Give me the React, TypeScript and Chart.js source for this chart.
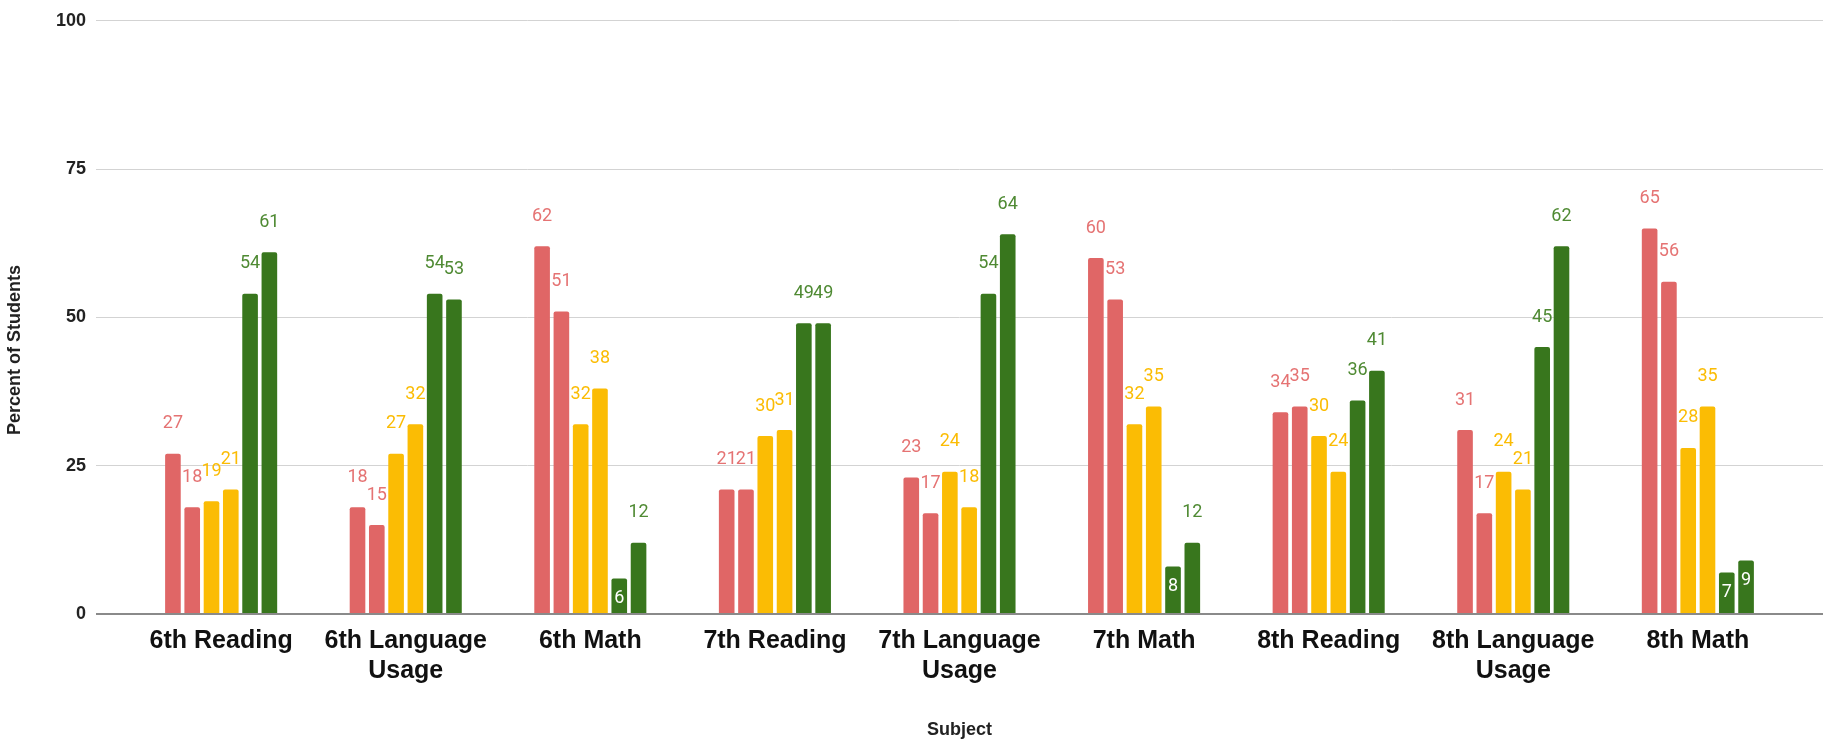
import React, { useEffect, useRef } from "react";
import { Chart, registerables } from "chart.js";

Chart.register(...registerables);

// ---- Data ----
const categories = [
  "6th Reading",
  "6th Language Usage",
  "6th Math",
  "7th Reading",
  "7th Language Usage",
  "7th Math",
  "8th Reading",
  "8th Language Usage",
  "8th Math",
];
const tickLabels: string[][] = [
  ["6th Reading"],
  ["6th Language", "Usage"],
  ["6th Math"],
  ["7th Reading"],
  ["7th Language", "Usage"],
  ["7th Math"],
  ["8th Reading"],
  ["8th Language", "Usage"],
  ["8th Math"],
];
const red1 = [27, 18, 62, 21, 23, 60, 34, 31, 65];
const red2 = [18, 15, 51, 21, 17, 53, 35, 17, 56];
const yellow1 = [19, 27, 32, 30, 24, 32, 30, 24, 28];
const yellow2 = [21, 32, 38, 31, 18, 35, 24, 21, 35];
const green1 = [54, 54, 6, 49, 54, 8, 36, 45, 7];
const green2 = [61, 53, 12, 49, 64, 12, 41, 62, 9];
const yTicks = [0, 25, 50, 75, 100];
const yTitle = "Percent of Students";
const xTitle = "Subject";

const seriesValues = [red1, red2, yellow1, yellow2, green1, green2];
const barColors = ["#e06666", "#e06666", "#fbbc04", "#fbbc04", "#38761d", "#38761d"];
const labelColors = ["#e57373", "#e57373", "#fbbc04", "#fbbc04", "#4f8a33", "#4f8a33"];

const EDGE_PAD = 0.178;
const FONT = "'Liberation Sans', Arial, sans-serif";

function drawLabels(chart: any, inside: boolean) {
  const ctx = chart.ctx;
  ctx.save();
  ctx.font = "18px Roboto";
  ctx.textAlign = "center";
  ctx.textBaseline = "middle";
  chart.data.datasets.forEach((_ds: any, i: number) => {
    const meta = chart.getDatasetMeta(i);
    meta.data.forEach((el: any, j: number) => {
      const v = seriesValues[i][j];
      const isInside = v < 10;
      if (isInside !== inside) return;
      ctx.fillStyle = inside ? "#ffffff" : labelColors[i];
      ctx.fillText(String(v), el.x, inside ? el.y + 20 : el.y - 30);
    });
  });
  ctx.restore();
}

const labelPlugin = {
  id: "barValueLabels",
  beforeDatasetsDraw(chart: any) {
    drawLabels(chart, false);
  },
  afterDatasetsDraw(chart: any) {
    drawLabels(chart, true);
  },
  afterDraw(chart: any) {
    const ctx = chart.ctx;
    ctx.save();
    ctx.translate(15, 350);
    ctx.rotate(-Math.PI / 2);
    ctx.font = "bold 18px " + FONT;
    ctx.fillStyle = "#222222";
    ctx.textAlign = "center";
    ctx.textBaseline = "middle";
    ctx.fillText(yTitle, 0, 0);
    ctx.restore();
  },
};

export default function App() {
  const canvasRef = useRef<HTMLCanvasElement | null>(null);

  useEffect(() => {
    if (!canvasRef.current) return;
    const chart = new Chart(canvasRef.current, {
      type: "bar",
      data: {
        datasets: seriesValues.map((vals, i) => ({
          label: "Series " + (i + 1),
          data: vals.map((v, j) => ({ x: j, y: v })),
          backgroundColor: barColors[i],
          borderWidth: 0,
          borderRadius: { topLeft: 2, topRight: 2, bottomLeft: 0, bottomRight: 0 },
          borderSkipped: "bottom",
          categoryPercentage: 0.627,
          barPercentage: 0.81,
        })),
      },
      options: {
        responsive: false,
        animation: false,
        devicePixelRatio: 1,
        layout: { padding: { top: 11, right: 2, bottom: 0, left: 0 } },
        plugins: {
          legend: { display: false },
          tooltip: { enabled: false },
        },
        scales: {
          x: {
            type: "linear",
            offset: false,
            bounds: "data",
            min: -0.5 - EDGE_PAD,
            max: categories.length - 0.5 + EDGE_PAD,
            afterBuildTicks: (scale: any) => {
              scale.ticks = categories.map((_c, i) => ({ value: i }));
            },
            afterFit: (scale: any) => {
              scale.height = 127;
            },
            grid: { display: false, drawTicks: false, offset: false },
            border: { display: false },
            ticks: {
              autoSkip: false,
              maxRotation: 0,
              minRotation: 0,
              padding: 12,
              color: "#111111",
              font: { family: FONT, size: 25, weight: "bold", lineHeight: 1.2 },
              callback: (value: any) => tickLabels[value] ?? "",
            },
            title: {
              display: true,
              text: xTitle,
              color: "#222222",
              font: { family: FONT, size: 18, weight: "bold" },
              padding: { top: 0, bottom: 0 },
            },
          },
          y: {
            min: 0,
            max: 100,
            afterBuildTicks: (scale: any) => {
              scale.ticks = yTicks.map((v) => ({ value: v }));
            },
            afterFit: (scale: any) => {
              scale.width = 96;
            },
            grid: {
              drawTicks: false,
              color: (c: any) => (c.tick && c.tick.value === 0 ? "#8a8a8a" : "#d3d3d3"),
              lineWidth: (c: any) => (c.tick && c.tick.value === 0 ? 2 : 1),
            },
            border: { display: false },
            ticks: {
              padding: 10,
              color: "#222222",
              font: { family: FONT, size: 18, weight: "bold" },
            },
          },
        },
      },
      plugins: [labelPlugin],
    } as any);
    return () => chart.destroy();
  }, []);

  return (
    <div style={{ position: "fixed", left: 0, top: 0, width: 1825, height: 741, background: "#ffffff" }}>
      <canvas ref={canvasRef} width={1825} height={741} style={{ display: "block" }} />
    </div>
  );
}
